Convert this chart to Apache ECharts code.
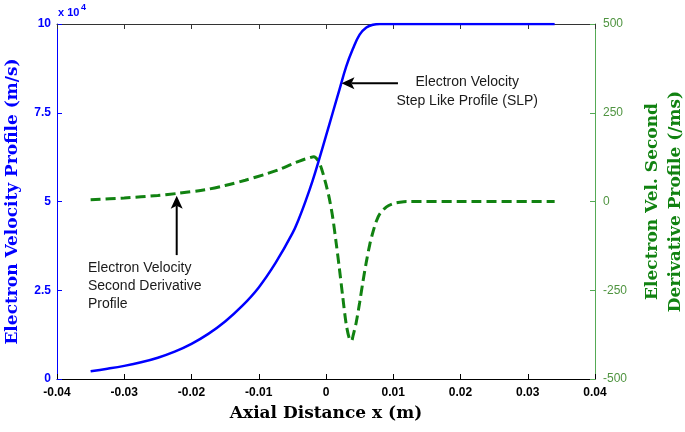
<!DOCTYPE html>
<html><head><meta charset="utf-8">
<script src="https://cdn.jsdelivr.net/npm/echarts@6/dist/echarts.min.js"></script>
<style>html,body{margin:0;padding:0;background:#fff}#c{width:685px;height:432px}</style>
</head><body><div id="c"></div>
<script>
// Electron velocity step-like profile (m/s)
const velX = [-0.035, -0.0325, -0.030, -0.0275, -0.025, -0.0225, -0.020, -0.0175, -0.015, -0.0125, -0.010, -0.0075, -0.005, -0.004, -0.003, -0.002, -0.001, 0.000, 0.001, 0.002, 0.003, 0.004, 0.005, 0.006, 0.007, 0.008, 0.010, 0.015, 0.020, 0.025, 0.030, 0.034];
const velVals = [2200, 2900, 3700, 4700, 6000, 7700, 9900, 12700, 16200, 20500, 25800, 32700, 41000, 45300, 50300, 55800, 62000, 68500, 75000, 81500, 88000, 93000, 97000, 99000, 99800, 100000, 100000, 100000, 100000, 100000, 100000, 100000];
// Second derivative profile (/ms)
const derX = [-0.035, -0.030, -0.025, -0.022, -0.018, -0.015, -0.012, -0.009, -0.007, -0.005, -0.0035, -0.0025, -0.0018, -0.0012, -0.0008, -0.0004, 0.000, 0.0005, 0.001, 0.0015, 0.002, 0.0025, 0.003, 0.0035, 0.0038, 0.004, 0.0045, 0.005, 0.0055, 0.006, 0.0065, 0.007, 0.0075, 0.008, 0.009, 0.010, 0.011, 0.012, 0.020, 0.034];
const derVals = [5, 10, 17, 23, 33, 45, 60, 77, 90, 106, 117, 123, 126, 116, 100, 76, 48, 8, -45, -115, -190, -270, -345, -388, -392, -380, -340, -285, -225, -170, -122, -85, -55, -35, -15, -6, -2, 0, 0, 0];
// Tick values
const xTicks = [-0.04, -0.03, -0.02, -0.01, 0, 0.01, 0.02, 0.03, 0.04];
const leftTicks = [0, 25000, 50000, 75000, 100000];
const rightTicks = [-500, -250, 0, 250, 500];

const BLUE = '#0000ff', GREEN = '#118211', RGREEN = '#55aa55';
const serif = 'DejaVu Serif';
const chart = echarts.init(document.getElementById('c'), null, {renderer: 'canvas'});
const xFmt = v => { const r = Math.round(v * 100) / 100; return r === 0 ? '0' : r.toFixed(2); };
const option = {
  animation: false,
  backgroundColor: '#fff',
  grid: {left: 57, right: 90, top: 24, bottom: 53, containLabel: false, outerBoundsMode: 'none'},
  xAxis: [{
    type: 'value', min: xTicks[0], max: xTicks[xTicks.length - 1], interval: 0.01, position: 'bottom',
    axisLine: {show: true, onZero: false, lineStyle: {color: '#000', width: 1}},
    axisTick: {show: true, inside: true, length: 5, lineStyle: {color: '#000', width: 1}},
    axisLabel: {formatter: xFmt, color: '#000', fontWeight: 'bold', fontSize: 12, margin: 8, fontFamily: 'Liberation Sans'},
    splitLine: {show: false},
    name: 'Axial Distance x (m)', nameLocation: 'middle', nameGap: 26,
    nameTextStyle: {fontFamily: serif, fontWeight: 'bold', fontSize: 17, color: '#000'}
  }, {
    type: 'value', min: xTicks[0], max: xTicks[xTicks.length - 1], interval: 0.01, position: 'top',
    axisLine: {show: true, onZero: false, lineStyle: {color: '#333', width: 1}},
    axisTick: {show: true, inside: true, length: 5, lineStyle: {color: '#333', width: 1}},
    axisLabel: {show: false}, splitLine: {show: false}
  }],
  yAxis: [{
    type: 'value', min: leftTicks[0], max: leftTicks[leftTicks.length - 1], interval: 25000, position: 'left',
    axisLine: {show: true, onZero: false, lineStyle: {color: BLUE, width: 1}},
    axisTick: {show: true, inside: true, length: 5, lineStyle: {color: BLUE, width: 1}},
    axisLabel: {formatter: v => String(v / 10000), color: BLUE, fontWeight: 'bold', fontSize: 12, margin: 6, fontFamily: 'Liberation Sans'},
    splitLine: {show: false},
    name: 'Electron Velocity Profile (m/s)', nameLocation: 'middle', nameGap: 36,
    nameTextStyle: {fontFamily: serif, fontWeight: 'bold', fontSize: 17, color: BLUE}
  }, {
    type: 'value', min: rightTicks[0], max: rightTicks[rightTicks.length - 1], interval: 250, position: 'right',
    axisLine: {show: true, onZero: false, lineStyle: {color: RGREEN, width: 1}},
    axisTick: {show: true, inside: true, length: 5, lineStyle: {color: RGREEN, width: 1}},
    axisLabel: {color: '#4f9440', fontSize: 12, margin: 8, fontFamily: 'Liberation Sans'},
    splitLine: {show: false},
    name: 'Electron Vel. Second\nDerivative Profile (/ms)', nameLocation: 'middle', nameGap: 46, nameRotate: 90,
    nameTextStyle: {fontFamily: serif, fontWeight: 'bold', fontSize: 17, color: GREEN, lineHeight: 23, align: 'center'}
  }],
  series: [{
    type: 'line', xAxisIndex: 0, yAxisIndex: 0, showSymbol: false, smooth: 0.4, z: 3,
    data: velX.map((x, i) => [x, velVals[i]]),
    lineStyle: {color: BLUE, width: 2.5}
  }, {
    type: 'line', xAxisIndex: 0, yAxisIndex: 1, showSymbol: false, smooth: 0.3, z: 2,
    data: derX.map((x, i) => [x, derVals[i]]),
    lineStyle: {color: GREEN, width: 3, type: [10, 5]}
  }]
};
chart.setOption(option);

const P = (x, y) => chart.convertToPixel({xAxisIndex: 0, yAxisIndex: 0}, [x, y]);
function arrow(tip, tail, dir) {
  let head;
  if (dir === 'left') head = [[tip[0], tip[1]], [tip[0] + 13, tip[1] - 6], [tip[0] + 10, tip[1]], [tip[0] + 13, tip[1] + 6]];
  else head = [[tip[0], tip[1]], [tip[0] + 6, tip[1] + 13], [tip[0], tip[1] + 10], [tip[0] - 6, tip[1] + 13]];
  const start = dir === 'left' ? [tip[0] + 10, tip[1]] : [tip[0], tip[1] + 10];
  return [
    {type: 'line', shape: {x1: start[0], y1: start[1], x2: tail[0], y2: tail[1]}, style: {stroke: '#000', lineWidth: 2}, z: 10},
    {type: 'polygon', shape: {points: head}, style: {fill: '#000'}, z: 10}
  ];
}
const a1tip = P(0.0023, 83300), a1tail = P(0.0107, 83300);
const a2tip = P(-0.0222, 51600), a2tail = P(-0.0222, 34900);
const t1 = P(0.0210, 86300), t2 = P(-0.0354, 33800);
const g0 = P(-0.04, 100000);
chart.setOption({graphic: [
  ...arrow(a1tip, a1tail, 'left'),
  ...arrow(a2tip, a2tail, 'up'),
  {type: 'text', x: t1[0], y: t1[1], z: 10, style: {text: 'Electron Velocity\nStep Like Profile (SLP)', fill: '#1a1a1a', font: '14px "Liberation Sans"', lineHeight: 19, textAlign: 'center', textVerticalAlign: 'top'}},
  {type: 'text', x: t2[0], y: t2[1], z: 10, style: {text: 'Electron Velocity\nSecond Derivative\nProfile', fill: '#1a1a1a', font: '14px "Liberation Sans"', lineHeight: 18, textAlign: 'left', textVerticalAlign: 'top'}},
  {type: 'text', x: g0[0] + 1, y: g0[1] - 17, style: {text: 'x 10', fill: BLUE, font: 'bold 11px "Liberation Sans"'}},
  {type: 'text', x: g0[0] + 24, y: g0[1] - 21, style: {text: '4', fill: BLUE, font: 'bold 9px "Liberation Sans"'}}
]});
</script>
</body></html>
